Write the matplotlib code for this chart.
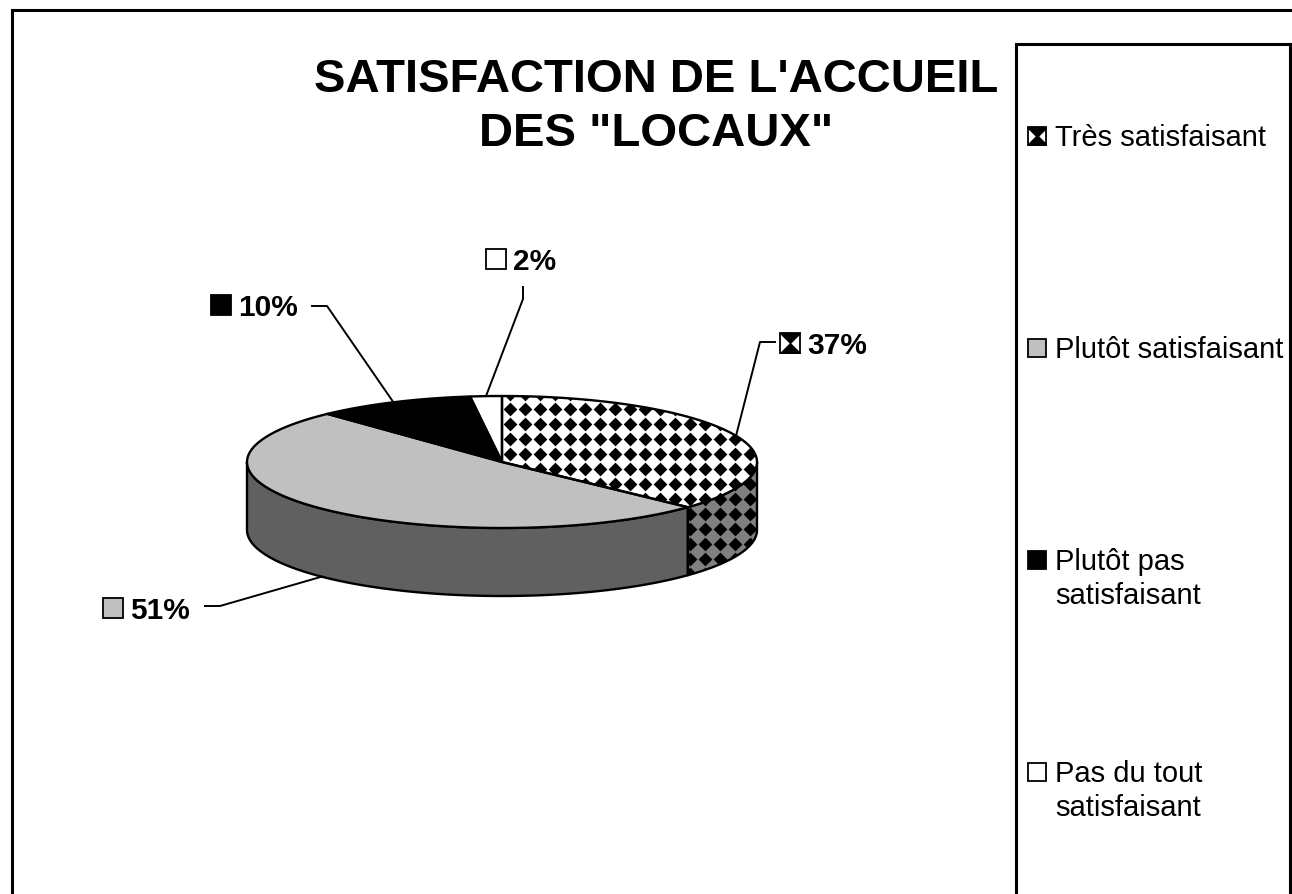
import numpy as np
import matplotlib
matplotlib.use("Agg")
import matplotlib.pyplot as plt
from matplotlib.patches import Polygon, Rectangle

plt.rcParams['font.family'] = ['Liberation Sans', 'DejaVu Sans']

# === Data ===
categories = ["Très satisfaisant", "Plutôt satisfaisant",
              "Plutôt pas\nsatisfaisant", "Pas du tout\nsatisfaisant"]
values = [37, 51, 10, 2]
pct_labels = ["37%", "51%", "10%", "2%"]
title_lines = ["SATISFACTION DE L'ACCUEIL", 'DES "LOCAUX"']

# === Styles ===
top_colors = ["white", "#c0c0c0", "black", "white"]
side_colors = ["#808080", "#606060", "black", "white"]
patterned = [True, False, False, False]

W, H = 1292, 895
fig = plt.figure(figsize=(W / 100, H / 100), dpi=100)
ax = fig.add_axes([0, 0, 1, 1])
ax.set_xlim(0, W)
ax.set_ylim(H, 0)
ax.axis('off')

# pie geometry (pixels)
cx, cy, rx, ry, depth = 502, 463, 255, 66, 68
LW = 1.7


def pt(t, dz=0):
    t = np.radians(t)
    return cx + rx * np.cos(t), cy - ry * np.sin(t) + dz


def arc(t1, t2, dz=0, n=120):
    x, y = pt(np.linspace(t1, t2, n), dz)
    return np.column_stack([x, y])


def diamonds(patch, z, step=15, size=7.0):
    # checker of black diamonds clipped to the patch
    bb = patch.get_path().get_extents()
    xs = np.arange(np.floor(bb.x0 / step) * step, bb.x1 + step, step)
    ys = np.arange(np.floor(bb.y0 / step) * step + 5, bb.y1 + step, step)
    gx, gy = np.meshgrid(xs, ys)
    sc = ax.scatter(gx.ravel(), gy.ravel(), marker='D', s=size ** 2,
                    color='black', linewidths=0, zorder=z)
    sc.set_clip_path(patch)


def shape(verts, fc, z, pattern=False):
    p = Polygon(verts, closed=True, facecolor=fc, edgecolor='none', zorder=z)
    ax.add_patch(p)
    if pattern:
        diamonds(p, z + 0.1)
    ax.add_patch(Polygon(verts, closed=True, fill=False, edgecolor='black',
                         linewidth=LW, zorder=z + 0.2, joinstyle='round'))


total = float(sum(values))
cum = np.concatenate([[0], np.cumsum(values)])
starts = 90 - 360 * cum[:-1] / total
ends = 90 - 360 * cum[1:] / total

# front sides
for i in range(len(values)):
    for k in (-1, 0, 1):
        lo = max(ends[i], -180 + 360 * k)
        hi = min(starts[i], 360 * k)
        if lo < hi:
            verts = np.vstack([arc(hi, lo), arc(lo, hi, depth)])
            shape(verts, side_colors[i], 1, patterned[i])

# top faces
for i in range(len(values)):
    verts = np.vstack([[[cx, cy]], arc(starts[i], ends[i])])
    shape(verts, top_colors[i], 3, patterned[i])


def key(x, y, i, size=19, z=6):
    r = Rectangle((x, y), size, size, facecolor=top_colors[i],
                  edgecolor='black', linewidth=1.3, zorder=z)
    ax.add_patch(r)
    if patterned[i]:
        sc = ax.scatter([x + size / 2, x + size / 2], [y, y + size],
                        marker='D', s=11 ** 2, color='black', linewidths=0,
                        zorder=z + 0.1)
        sc.set_clip_path(r)


# data labels: (key x, baseline y, elbow points)
label_pos = [
    (780, 354, [(775, 343), (760, 343)]),
    (103, 619, [(205, 607), (220, 607)]),
    (211, 316, [(312, 307), (327, 307)]),
    (486, 270, [(523, 288), (523, 300)]),
]
for i, (kx, base, elbow) in enumerate(label_pos):
    key(kx, base - 20, i, size=20)
    ax.text(kx + 27, base, pct_labels[i], fontsize=21.5, fontweight='bold',
            va='baseline', ha='left', zorder=6)
    mid = (starts[i] + ends[i]) / 2
    dz = depth if np.sin(np.radians(mid)) < 0 else 0
    ax_, ay_ = pt(mid, dz)
    xs = [p[0] for p in elbow] + [ax_]
    ys = [p[1] for p in elbow] + [ay_]
    ax.plot(xs, ys, color='black', lw=1.4, zorder=5)

# title
ax.text(656, 92, title_lines[0], fontsize=34, fontweight='bold',
        ha='center', va='baseline')
ax.text(656, 146, title_lines[1], fontsize=34, fontweight='bold',
        ha='center', va='baseline')

# outer frame and legend box
ax.plot([12, 12, W + 5], [H + 5, 11, 11], color='black', lw=2.2,
        solid_joinstyle='miter')
ax.plot([1016, 1016, 1290, 1290], [H + 5, 45, 45, H + 5], color='black',
        lw=2.2, solid_joinstyle='miter')

legend_base = [146, 358, 570, 782]
for i, name in enumerate(categories):
    key(1028, legend_base[i] - 18, i, size=18)
    for j, line in enumerate(name.split("\n")):
        ax.text(1055, legend_base[i] + 34 * j, line, fontsize=21,
                ha='left', va='baseline')

fig.savefig("out.png", dpi=100)
